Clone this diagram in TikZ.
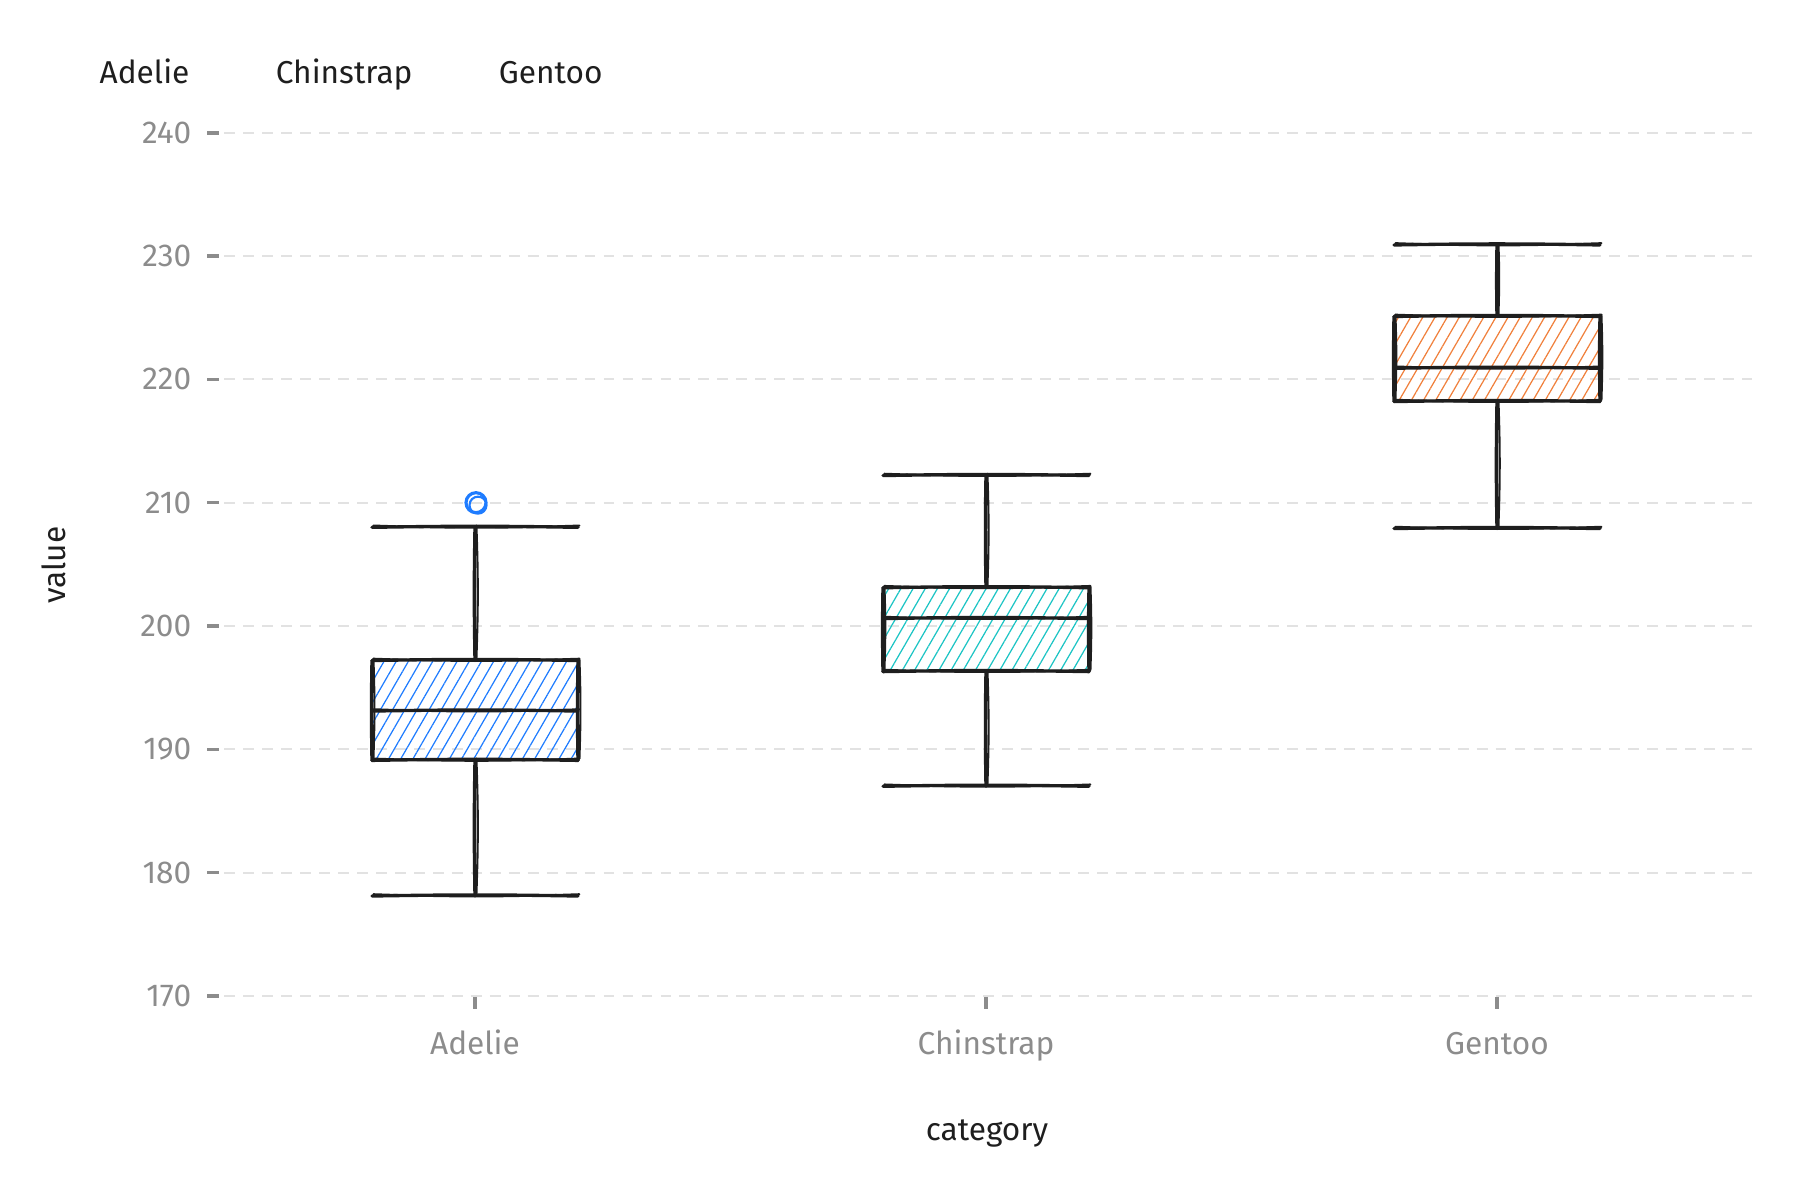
\documentclass[tikz,border=0pt]{standalone}
\usepackage{fontspec}
\setmainfont{Fira Sans}
\usepackage{tikz}
\usetikzlibrary{positioning}
\usetikzlibrary{patterns.meta}
\definecolor{ink}{HTML}{1E1E1E}
\definecolor{axisgray}{HTML}{8C8C8C}
\definecolor{gridgray}{HTML}{E2E2E2}
\definecolor{adelieblue}{HTML}{1F7CFF}
\definecolor{chinteal}{HTML}{1CC4C4}
\definecolor{gentooorange}{HTML}{F0803C}
\tikzset{
    hachure/.style={pattern={Lines[angle=60,distance=3pt,line width=0.35pt]}, pattern color=#1},
    stroke/.style={ink, line width=0.95pt, line cap=round},
}
% two strokes per line, for the sketchy look
\newcommand{\rough}[2]{
    \draw[stroke] #1 to[bend left=1] #2;
    \draw[stroke, line width=0.6pt, xshift=0.4pt, yshift=0.5pt] #1 to[bend right=2] #2;
}
% x, low, q1, median, q3, high, colour
\newcommand{\boxplot}[7]{
    \fill[hachure=#7] (#1-1.03,#3) rectangle (#1+1.03,#5);
    \rough{(#1,#2)}{(#1,#3)}
    \rough{(#1,#5)}{(#1,#6)}
    \rough{(#1-1.03,#2)}{(#1+1.03,#2)}
    \rough{(#1-1.03,#6)}{(#1+1.03,#6)}
    \rough{(#1-1.03,#3)}{(#1+1.03,#3)}
    \rough{(#1-1.03,#4)}{(#1+1.03,#4)}
    \rough{(#1-1.03,#5)}{(#1+1.03,#5)}
    \rough{(#1-1.03,#3)}{(#1-1.03,#5)}
    \rough{(#1+1.03,#3)}{(#1+1.03,#5)}
}

\begin{document}
\begin{tikzpicture}[
        every node/.style={font=\fontsize{9}{11}\selectfont},
        legend/.style={inner sep=0pt, text=ink, node distance=0.85cm},
        ticklabel/.style={inner sep=0pt, text=axisgray},
        grid/.style={gridgray, line width=0.6pt, dash pattern=on 3.1pt off 2.3pt},
        tick/.style={axisgray, line width=1pt},
    ]
    \useasboundingbox (0,0) rectangle (18,12);

    \node[legend, anchor=base west] (LA) at (0.99,11.16) {Adelie};
    \node[legend]                   (LC) [base right=of LA] {Chinstrap};
    \node[legend]                   (LG) [base right=of LC] {Gentoo};

    \begin{scope}[y=0.1233cm, yshift=-18.921cm]
        \foreach \v in {170,180,...,240} {
            \draw[grid] (2.24,\v) -- (17.52,\v);
            \draw[tick] (2.07,\v) -- (2.19,\v);
            \node[ticklabel, anchor=east] (Y\v) at (1.92,\v) {\v};
        }

        \boxplot{4.75}{178.1}{189.1}{193.1}{197.2}{208.0}{adelieblue}
        \boxplot{9.86}{187.0}{196.3}{200.6}{203.1}{212.2}{chinteal}
        \boxplot{14.97}{207.9}{218.2}{220.9}{225.1}{230.9}{gentooorange}

        % outlier
        \draw[adelieblue, line width=0.9pt] (4.76,210) circle [radius=0.1cm];
        \draw[adelieblue, line width=0.6pt] (4.78,209.8) circle [radius=0.085cm];
    \end{scope}

    \foreach \x/\name in {4.75/Adelie, 9.86/Chinstrap, 14.97/Gentoo} {
        \draw[tick] (\x,2.03) -- (\x,1.91);
        \node[ticklabel, anchor=base] (X\name) at (\x,1.45) {\name};
    }

    \node[text=ink, anchor=base] (XT) at (9.87,0.6) {category};
    \node[text=ink, rotate=90] (YT) at (0.54,6.35) {value};
\end{tikzpicture}
\end{document}
